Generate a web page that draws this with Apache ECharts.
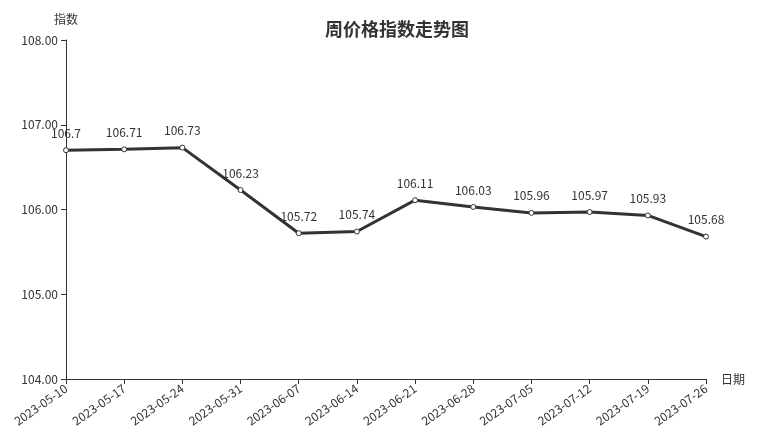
<!DOCTYPE html>
<html><head><meta charset="utf-8">
<script src="https://cdn.jsdelivr.net/npm/echarts@6/dist/echarts.min.js"></script>
<style>html,body{margin:0;padding:0;background:#fff}#c{width:759px;height:437px}</style>
</head><body><div id="c"></div>
<script>
const dates = ['2023-05-10','2023-05-17','2023-05-24','2023-05-31','2023-06-07','2023-06-14','2023-06-21','2023-06-28','2023-07-05','2023-07-12','2023-07-19','2023-07-26'];
const values = [106.7,106.71,106.73,106.23,105.72,105.74,106.11,106.03,105.96,105.97,105.93,105.68];
const yMin = 104, yMax = 108, yStep = 1;
const font = '"Noto Sans CJK SC", "Noto Sans", sans-serif';
const chart = echarts.init(document.getElementById('c'), null, {renderer:'canvas'});
chart.setOption({
  animation:false,
  textStyle:{fontFamily:font},
  title:{text:'周价格指数走势图', left:320, top:15, textStyle:{fontSize:18, fontWeight:'bold', color:'#333', fontFamily:font}},
  grid:{left:66, right:53, top:40, bottom:58, containLabel:false},
  xAxis:{type:'category', data:dates, boundaryGap:false, name:'日期', nameGap:15,
    nameTextStyle:{color:'#333', fontSize:12, fontFamily:font},
    axisLine:{lineStyle:{color:'#333'}}, axisTick:{alignWithLabel:true, lineStyle:{color:'#333'}},
    axisLabel:{rotate:35, color:'#333', fontSize:12, fontFamily:font, interval:0, margin:8}},
  yAxis:{type:'value', min:yMin, max:yMax, interval:yStep, name:'指数', nameGap:15,
    nameTextStyle:{color:'#333', fontSize:12, fontFamily:font},
    splitLine:{show:false},
    axisLine:{show:true, lineStyle:{color:'#333'}}, axisTick:{show:true, lineStyle:{color:'#333'}},
    axisLabel:{color:'#333', fontSize:12, fontFamily:font, formatter:v=>v.toFixed(2)}},
  series:[{type:'line', data:values, symbol:'circle', symbolSize:5,
    lineStyle:{color:'#333', width:3},
    itemStyle:{color:'#fff', borderColor:'#333', borderWidth:1},
    label:{show:true, position:'top', distance:8, color:'#333', fontSize:12, fontFamily:font}}]
});
</script></body></html>
